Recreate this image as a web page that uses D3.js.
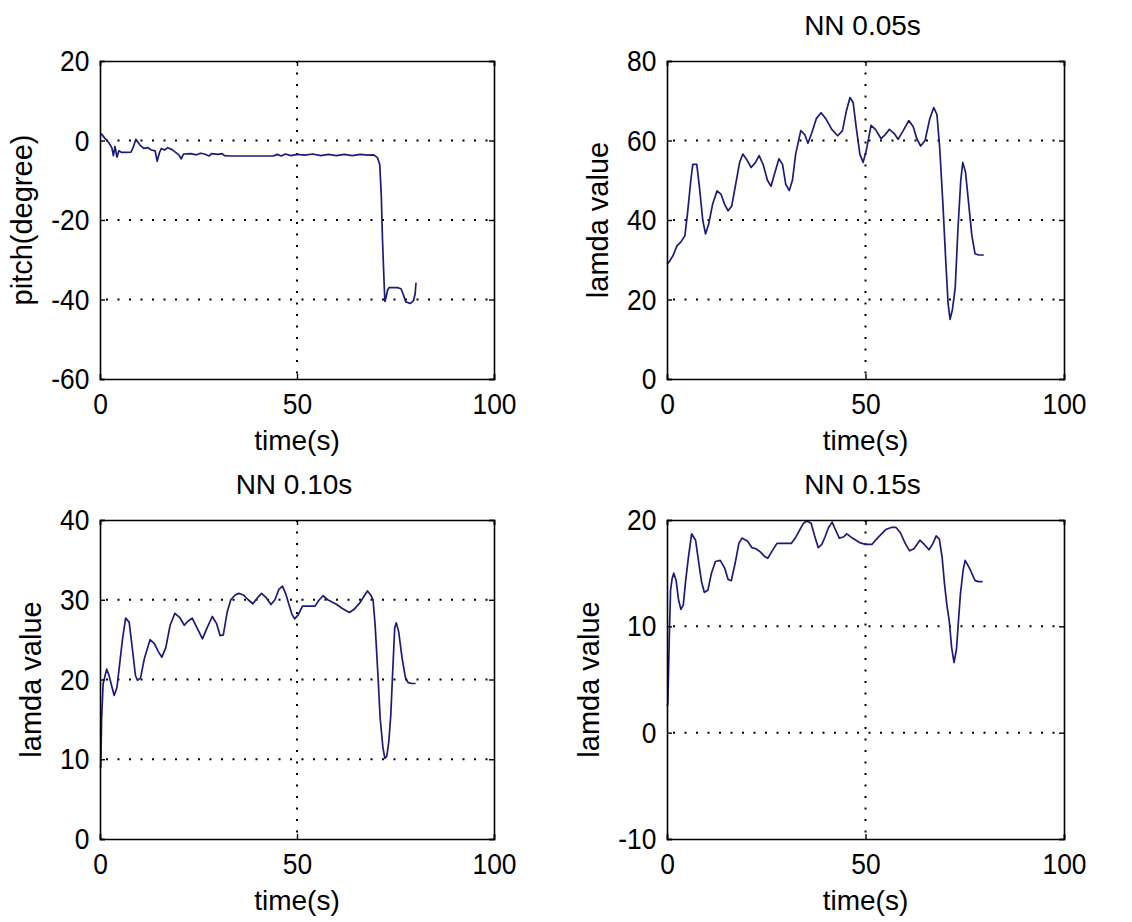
<!DOCTYPE html>
<html>
  <head>
    <meta charset="utf-8">
    <title>pitch and lamda value</title>
    <script src="https://d3js.org/d3.v7.min.js"></script>
    <style>
      body { margin: 0; background: #fff; }
      svg text { font-family: "Liberation Sans", Arial, sans-serif; fill: #000; }
    </style>
  </head>
  <body>
    <div id="chart"></div>
    <script>
      // valores (tempo em s)
      var pitchTime = [0, 0.4, 1.2, 2.2, 3.0, 3.4, 3.8, 4.3, 4.8, 5.5, 6.3, 7.9, 8.5, 9.1, 10.2, 11.1, 12.2, 13.0, 14.0, 14.5, 15.1, 15.6, 16.4, 17.2, 18.3, 19.2, 20.0, 20.6, 21.2, 23.0, 24.5, 25.5, 26.5, 27.7, 28.3, 30.0, 31.0, 31.6, 33.2, 44.0, 45.0, 46.0, 47.0, 48.5, 50, 52, 54, 56, 58, 60, 62, 64, 66, 68, 69.5, 70.4, 71.0, 71.4, 71.7, 72.0, 72.3, 72.6, 73.0, 73.4, 74.2, 75.5, 76.4, 77.0, 77.6, 78.8, 79.6, 80.0, 80.2]
      var pitchDeg = [1.6, 1.6, 0.6, -0.5, -1.8, -3.8, -1.5, -4.2, -2.6, -3.0, -3.0, -2.9, -1.5, 0.3, -1.2, -2.0, -1.8, -2.4, -2.6, -5.2, -3.0, -2.0, -2.4, -1.8, -2.3, -3.0, -3.6, -4.6, -3.4, -3.3, -3.6, -3.2, -3.4, -3.9, -3.3, -3.5, -3.3, -3.8, -3.9, -3.9, -3.5, -3.9, -3.4, -3.8, -3.5, -3.7, -3.4, -3.8, -3.5, -3.8, -3.5, -3.8, -3.5, -3.7, -3.6, -4.3, -6.0, -14, -25, -33, -40.5, -39.5, -37.6, -37.0, -37.0, -37.0, -37.3, -38.8, -40.6, -41.0, -40.2, -38.5, -35.8]

      var nn005Time = [0, 0.5, 1.5, 2.5, 3.5, 4.5, 5.2, 6.0, 6.5, 7.5, 8.2, 9.0, 9.7, 10.5, 11.5, 12.6, 13.6, 14.5, 15.4, 16.3, 17.3, 18.3, 19.1, 20.2, 21.2, 22.3, 23.2, 24.2, 25.3, 26.2, 27.2, 28.2, 29.1, 29.9, 30.8, 31.6, 32.4, 33.7, 34.7, 35.5, 36.5, 37.6, 38.8, 40.0, 41.5, 43.0, 44.2, 45.2, 46.1, 46.9, 47.7, 48.6, 49.4, 50.2, 51.4, 52.5, 53.9, 55.0, 56.0, 57.2, 58.2, 59.5, 60.9, 62.0, 62.9, 63.9, 65.0, 66.2, 67.2, 68.0, 68.7, 69.5, 70.2, 70.8, 71.3, 71.9, 72.6, 73.3, 74.0, 74.5, 75.2, 76.0, 76.8, 77.6, 78.5, 79.8]
      var nn005Lamda = [29, 29.4, 31, 33.5, 34.5, 36, 42, 50, 54, 54, 48, 40, 36.5, 39, 44, 47.3, 46.5, 44, 42.3, 43.5, 49, 54.5, 56.6, 55, 53.2, 54.5, 56.2, 54, 50, 48.5, 52, 55.4, 54, 49, 47.4, 50, 56.5, 62.5, 61.5, 59.3, 62, 65.5, 67, 65.5, 62.8, 61.2, 62.5, 67.5, 70.8, 69.5, 63, 56.5, 54.5, 57.5, 63.8, 62.8, 60.5, 61.5, 62.8, 61.8, 60.3, 62.5, 65, 63.5, 60.5, 58.6, 60, 65.5, 68.3, 66.5, 58, 44, 30, 19, 15, 17.5, 23, 38, 50, 54.5, 52, 44, 36, 31.5, 31.2, 31.2]

      var nn010Time = [0, 0.2, 0.4, 0.8, 1.3, 1.7, 2.3, 2.8, 3.6, 4.3, 5.0, 5.7, 6.5, 7.4, 8.3, 9.0, 9.5, 10.3, 11.2, 12.7, 13.8, 14.8, 15.7, 16.7, 17.8, 19.0, 20.2, 21.4, 22.3, 23.4, 24.6, 26.0, 27.2, 28.5, 29.6, 30.5, 31.3, 32.3, 33.2, 34.3, 35.2, 36.4, 37.6, 38.8, 39.9, 41.0, 42.1, 43.4, 44.4, 45.4, 46.3, 47.1, 47.9, 48.7, 49.4, 50.3, 51.4, 52.5, 54.6, 55.5, 56.6, 57.8, 60.1, 61.5, 63.3, 64.5, 66.1, 67.2, 67.9, 68.7, 69.3, 69.8, 70.1, 70.6, 71.1, 71.8, 72.3, 72.8, 73.3, 73.8, 74.2, 74.8, 75.2, 75.8, 76.7, 77.5, 78.2, 79.2, 80.1]
      var nn010Lamda = [9.2, 9, 15, 19.5, 20.5, 21.3, 20.5, 19.5, 18, 19, 22, 25, 27.7, 27.2, 23.5, 20.5, 19.9, 20.2, 22.5, 25, 24.5, 23.5, 22.8, 24, 26.8, 28.3, 27.8, 26.8, 27.3, 27.7, 26.5, 25.1, 26.5, 27.9, 27, 25.5, 25.6, 28.5, 30, 30.6, 30.8, 30.6, 30, 29.5, 30.2, 30.8, 30.3, 29.4, 30, 31.3, 31.7, 30.8, 29.5, 28.2, 27.6, 28.1, 29.2, 29.2, 29.2, 29.9, 30.5, 30, 29.4, 28.9, 28.4, 28.8, 29.7, 30.6, 31.1, 30.6, 30, 27, 24.5, 20, 15.2, 11.5, 10.1, 10.4, 12.2, 15.5, 20, 26.5, 27.1, 26, 22.6, 20.3, 19.6, 19.5, 19.5]

      var nn015Time = [0, 0.2, 0.4, 0.6, 0.9, 1.3, 1.7, 2.3, 2.9, 3.5, 4.1, 4.7, 5.4, 6.2, 7.2, 8.0, 8.7, 9.4, 10.3, 11.2, 12.2, 13.4, 14.5, 15.4, 16.2, 17.2, 18.1, 18.9, 20.3, 21.4, 22.4, 23.5, 24.5, 25.4, 26.5, 27.7, 29.3, 31.3, 32.3, 33.2, 34.4, 35.2, 36.3, 37.2, 38.1, 39.0, 39.8, 40.7, 41.6, 42.3, 43.4, 44.4, 45.3, 46.7, 48.4, 50.0, 51.6, 53.0, 55.1, 56.5, 57.7, 58.8, 60.0, 61.1, 62.2, 63.7, 64.8, 66.0, 67.0, 67.8, 68.6, 69.3, 69.9, 70.5, 71.1, 71.7, 72.3, 72.9, 73.3, 73.9, 74.6, 75.1, 75.7, 76.4, 77.6, 78.5, 79.5]
      var nn015Lamda = [2.5, 2.7, 6, 9.3, 13.4, 14.5, 15, 14.3, 12.5, 11.6, 12, 14.3, 16.5, 18.7, 18.1, 16, 14.2, 13.2, 13.4, 15, 16.1, 16.2, 15.5, 14.4, 14.3, 16, 17.8, 18.3, 18, 17.4, 17.3, 17, 16.6, 16.4, 17.1, 17.8, 17.8, 17.8, 18.3, 18.9, 19.7, 19.9, 19.7, 18.5, 17.4, 17.7, 18.4, 19.3, 19.8, 19.2, 18.3, 18.4, 18.7, 18.3, 17.9, 17.7, 17.7, 18.3, 19.1, 19.3, 19.3, 18.8, 17.8, 17.1, 17.3, 18.1, 17.7, 17.2, 17.8, 18.5, 18.2, 16.5, 14, 12, 10.5, 8, 6.6, 7.8, 9.9, 13, 15.3, 16.2, 15.8, 15.3, 14.3, 14.2, 14.2]

      // eixos
      var xTicks = [0, 50, 100]
      var pitchTicks = [20, 0, -20, -40, -60]
      var nn005Ticks = [80, 60, 40, 20, 0]
      var nn010Ticks = [40, 30, 20, 10, 0]
      var nn015Ticks = [20, 10, 0, -10]
      var titles = ['', 'NN 0.05s', 'NN 0.10s', 'NN 0.15s']
      var yLabels = ['pitch(degree)', 'lamda value', 'lamda value', 'lamda value']

      var larguraSVG = 1132, alturaSVG = 922
      var estreito = 0.88 // fonte dos numeros e mais estreita
      var svg = d3.select('#chart').append('svg')
        .attr('width', larguraSVG)
        .attr('height', alturaSVG)
      svg.append('rect').attr('width', larguraSVG).attr('height', alturaSVG).attr('fill', '#fff')

      // posicao de cada subplot
      var paineis = [
        {x: 100, y: 61, w: 394, h: 318, t: pitchTime, v: pitchDeg, ticks: pitchTicks},
        {x: 667, y: 61, w: 397, h: 318, t: nn005Time, v: nn005Lamda, ticks: nn005Ticks},
        {x: 100, y: 520, w: 394, h: 319, t: nn010Time, v: nn010Lamda, ticks: nn010Ticks},
        {x: 667, y: 520, w: 397, h: 319, t: nn015Time, v: nn015Lamda, ticks: nn015Ticks}
      ]

      paineis.forEach(function(p, i) {
        var g = svg.append('g').attr('transform', 'translate(' + p.x + ',' + p.y + ')')
        var x = d3.scaleLinear().domain([0, 100]).range([0, p.w])
        var y = d3.scaleLinear().domain(d3.extent(p.ticks)).range([p.h, 0])

        // grade pontilhada (so linhas internas)
        var gx = xTicks.filter(d => d > 0 && d < 100)
        var gy = p.ticks.filter(d => d > y.domain()[0] && d < y.domain()[1])
        g.selectAll('.gx').data(gx).enter().append('line')
          .attr('x1', d => x(d)).attr('x2', d => x(d))
          .attr('y1', 0).attr('y2', p.h)
          .attr('stroke', '#000').attr('stroke-width', 2)
          .attr('stroke-dasharray', '2,9.5')
        g.selectAll('.gy').data(gy).enter().append('line')
          .attr('x1', 0).attr('x2', p.w)
          .attr('y1', d => y(d)).attr('y2', d => y(d))
          .attr('stroke', '#000').attr('stroke-width', 2)
          .attr('stroke-dasharray', '2,9.5')
          .attr('stroke-dashoffset', -6)

        // curva
        var linha = d3.line().x(d => x(d[0])).y(d => y(d[1]))
        g.append('path')
          .datum(d3.zip(p.t, p.v))
          .attr('d', linha)
          .attr('fill', 'none')
          .attr('stroke', '#1c1c78')
          .attr('stroke-width', 1.7)
          .attr('stroke-linejoin', 'round')

        // caixa e ticks para dentro
        var tl = 5
        var fmt = d => String(d) // hifen, nao o sinal de menos unicode
        var eixoX = g.append('g').attr('transform', 'translate(0,' + p.h + ')')
          .call(d3.axisBottom(x).tickValues(xTicks).tickSize(-tl).tickPadding(14).tickFormat(fmt))
        g.append('g')
          .call(d3.axisTop(x).tickValues(xTicks).tickSize(-tl).tickFormat(''))
        var eixoY = g.append('g')
          .call(d3.axisLeft(y).tickValues(p.ticks).tickSize(-tl).tickPadding(12).tickFormat(fmt))
        g.append('g').attr('transform', 'translate(' + p.w + ',0)')
          .call(d3.axisRight(y).tickValues(p.ticks).tickSize(-tl).tickFormat(''))
        g.selectAll('.domain').attr('stroke', '#000').attr('stroke-width', 1.6)
        g.selectAll('.tick line').attr('stroke', '#000').attr('stroke-width', 1.4)
        g.selectAll('.tick text')
          .style('font-size', '30px')
          .attr('transform', 'scale(' + estreito + ',1)')

        // largura maxima dos rotulos do eixo y, para posicionar o titulo do eixo
        var maxW = 0
        eixoY.selectAll('.tick text').each(function() {
          maxW = Math.max(maxW, this.getBBox().width * estreito)
        })

        g.append('text')
          .attr('transform', 'translate(' + (-12 * estreito - maxW - 19) + ',' + (p.h / 2) + ') rotate(-90)')
          .attr('text-anchor', 'middle')
          .style('font-size', '29px')
          .text(yLabels[i])

        g.append('text')
          .attr('x', p.w / 2).attr('y', p.h + 71)
          .attr('text-anchor', 'middle')
          .style('font-size', '28px')
          .text('time(s)')

        if (titles[i]) {
          g.append('text')
            .attr('x', p.w / 2 - 3).attr('y', -26)
            .attr('text-anchor', 'middle')
            .style('font-size', '28px')
            .text(titles[i])
        }
      })
    </script>
  </body>
</html>
